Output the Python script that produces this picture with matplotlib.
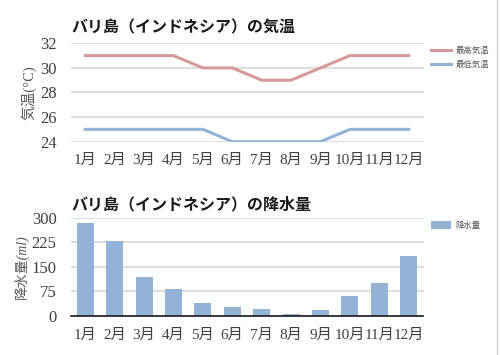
import matplotlib
matplotlib.use('Agg')
import numpy as np
import matplotlib.pyplot as plt

plt.rcParams['font.family'] = ['Liberation Serif', 'Noto Sans CJK JP']

months = ['1月', '2月', '3月', '4月', '5月', '6月', '7月', '8月', '9月', '10月', '11月', '12月']
temp_high = [31, 31, 31, 31, 30, 30, 29, 29, 30, 31, 31, 31]
temp_low = [25, 25, 25, 25, 25, 24, 24, 24, 24, 25, 25, 25]
rain = [284, 228, 120, 82, 39, 26, 22, 7, 18, 61, 99, 184]

red = '#d69a9b'
blue = '#95b3d7'
grid = '#d9d9d9'
txt = '#404040'

fig = plt.figure(figsize=(5, 3.55), dpi=100)
x = np.arange(len(months))

# temperature
ax1 = fig.add_axes([0.141, 0.601, 0.706, 0.277])
ax1.plot(x, temp_high, color=red, lw=2.2, label='最高気温')
ax1.plot(x, temp_low, color=blue, lw=2.2, label='最低気温')
ax1.set_ylim(24, 32)
ax1.set_yticks([24, 26, 28, 30, 32])
ax1.set_xlim(-0.5, 11.5)
ax1.set_xticks(x)
ax1.set_xticklabels(months)
ax1.yaxis.grid(True, color=grid, lw=1.2)
ax1.set_axisbelow(True)
for s in ax1.spines.values():
    s.set_visible(False)
ax1.tick_params(axis='y', length=0, labelsize=12, colors=txt, pad=10)
ax1.tick_params(axis='x', length=0, labelsize=11, colors=txt, pad=9)
ax1.set_ylabel('気温(°C)', fontsize=10.5, color='#595959')
ax1.yaxis.set_label_coords(-0.097, 0.5)
ax1.legend(loc='upper left', bbox_to_anchor=(1.0, 1.04), frameon=False,
           fontsize=6, handlelength=2.4, labelspacing=0.6, handletextpad=0.5,
           labelcolor='#595959')
fig.text(0.142, 0.924, 'バリ島（インドネシア）の気温', fontsize=11.5,
         fontweight='bold', family=['Noto Sans CJK JP'], va='center', color='#1a1a1a')

# rain
ax2 = fig.add_axes([0.141, 0.110, 0.706, 0.277])
ax2.bar(x, rain, width=0.58, color=blue, label='降水量')
ax2.set_ylim(0, 300)
ax2.set_yticks([0, 75, 150, 225, 300])
ax2.set_xlim(-0.5, 11.5)
ax2.set_xticks(x)
ax2.set_xticklabels(months)
ax2.yaxis.grid(True, color=grid, lw=1.2)
ax2.set_axisbelow(True)
for s in ['top', 'right', 'left']:
    ax2.spines[s].set_visible(False)
ax2.spines['bottom'].set_color('#1a1a1a')
ax2.spines['bottom'].set_linewidth(1.2)
ax2.tick_params(axis='y', length=0, labelsize=12, colors=txt, pad=10)
ax2.tick_params(axis='x', length=0, labelsize=11, colors=txt, pad=9)
ax2.set_ylabel('降水量(ml)', fontsize=10, color='#595959', style='italic')
ax2.yaxis.set_label_coords(-0.117, 0.5)
ax2.legend(loc='upper left', bbox_to_anchor=(1.0, 1.04), frameon=False,
           fontsize=6, handlelength=2.4, handleheight=1.0, handletextpad=0.5,
           labelcolor='#595959')
fig.text(0.142, 0.424, 'バリ島（インドネシア）の降水量', fontsize=11.5,
         fontweight='bold', family=['Noto Sans CJK JP'], va='center', color='#1a1a1a')

fig.add_artist(plt.Line2D([0.994, 0.994], [0.0, 1.0], color='#d0d0d0', lw=1))

fig.savefig('out.png', dpi=100)
